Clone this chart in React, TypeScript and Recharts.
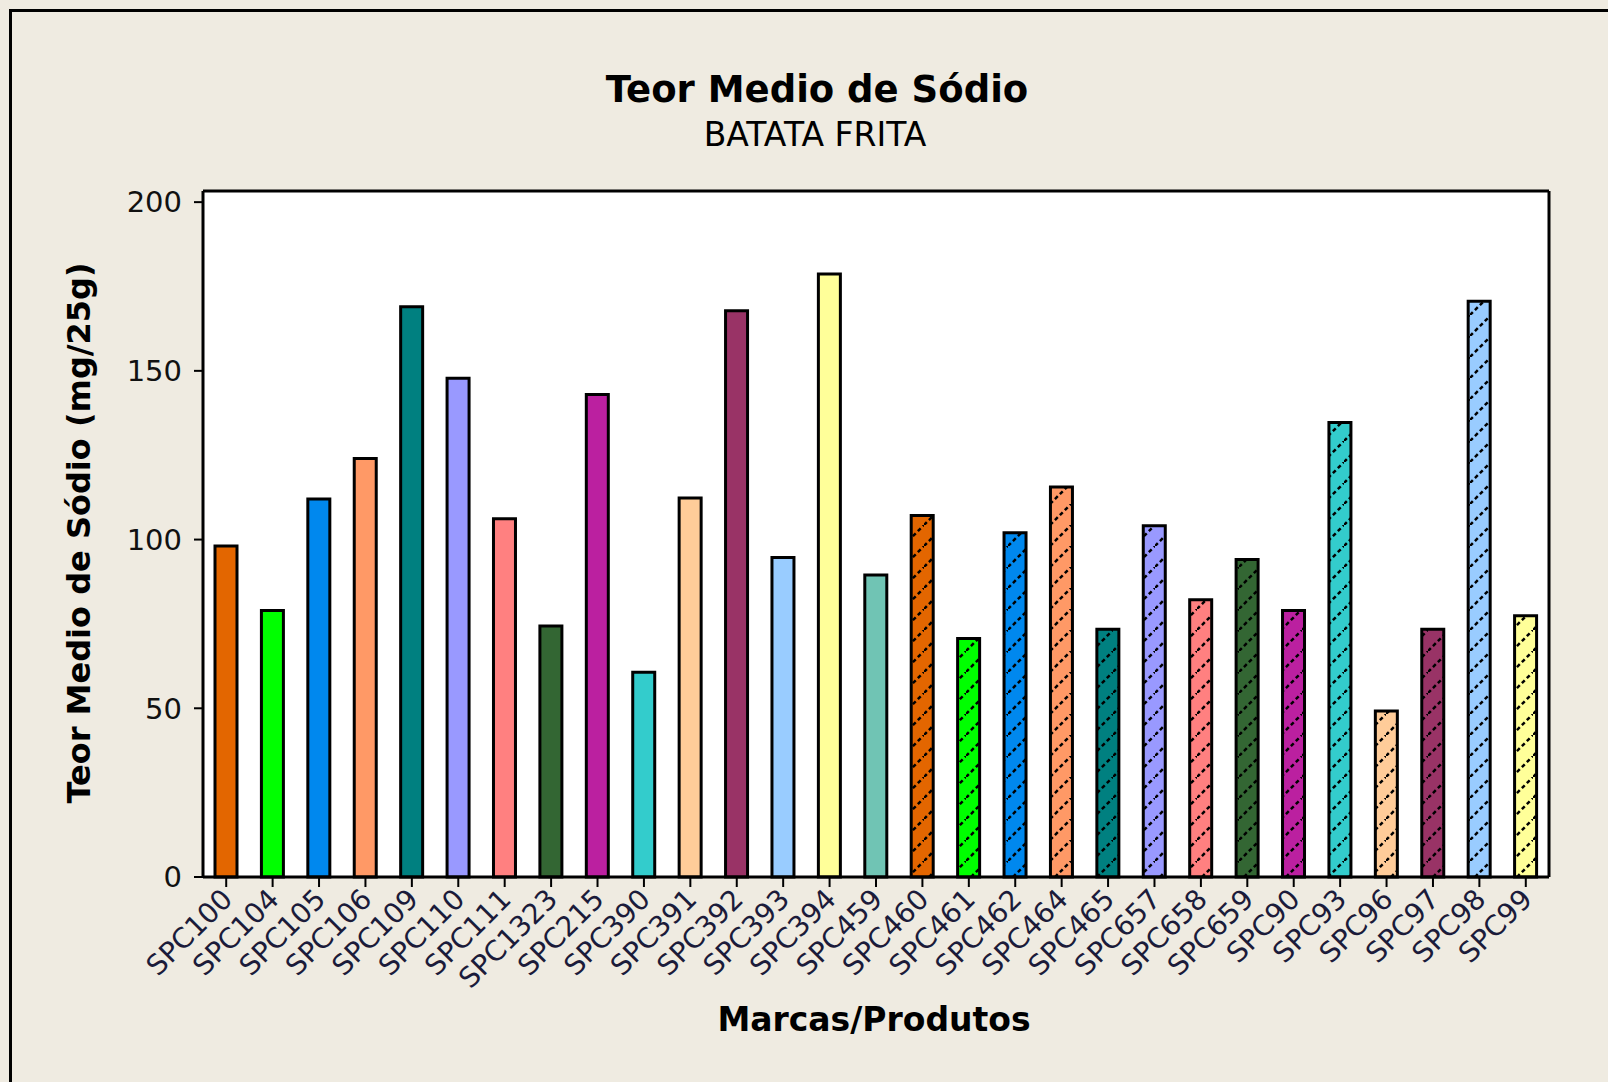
import React from "react";
import { BarChart, Bar, Cell, XAxis, YAxis, CartesianGrid } from "recharts";

// brands / products on the x axis
const products = [
  "SPC100", "SPC104", "SPC105", "SPC106", "SPC109", "SPC110", "SPC111", "SPC1323",
  "SPC215", "SPC390", "SPC391", "SPC392", "SPC393", "SPC394", "SPC459", "SPC460",
  "SPC461", "SPC462", "SPC464", "SPC465", "SPC657", "SPC658", "SPC659", "SPC90",
  "SPC93", "SPC96", "SPC97", "SPC98", "SPC99",
];

// mean sodium, mg per 25 g
const sodium = [
  98.1, 79, 112, 124, 169, 147.8, 106.2, 74.4,
  143, 60.7, 112.3, 167.8, 94.7, 178.7, 89.5, 107.1,
  70.7, 102, 115.6, 73.4, 104.1, 82.2, 94.1, 79,
  134.7, 49.2, 73.4, 170.6, 77.4,
];

const yTicks = [0, 50, 100, 150, 200];

// Minitab fill colours, the second round is hatched
const palette = [
  "#E36600", "#00FF00", "#0088EE", "#FF9966", "#008080",
  "#9999FF", "#FF8080", "#336633", "#BB20A0", "#33CCCC",
  "#FFCC99", "#993366", "#99CCFF", "#FFFF99", "#70C4B4",
];

const data = products.map((name, i) => ({ name, sodium: sodium[i] }));

const FONT = "'DejaVu Sans', Verdana, sans-serif";
const BG = "#EFEBE1";

function XTick({ x, y, payload }: any) {
  return (
    <text
      x={x + 8}
      y={y + 8}
      transform={`rotate(-45, ${x + 8}, ${y + 8})`}
      textAnchor="end"
      fontSize={28}
      fontFamily={FONT}
      fill="#1b1b3a"
    >
      {payload.value}
    </text>
  );
}

export default function App() {
  return (
    <div
      style={{
        position: "absolute",
        left: 0,
        top: 0,
        width: 1608,
        height: 1082,
        background: BG,
        overflow: "hidden",
      }}
    >
      <svg
        width={1608}
        height={1082}
        style={{ position: "absolute", left: 0, top: 0 }}
        fontFamily={FONT}
      >
        <rect x={10.5} y={10.5} width={1700} height={1200} fill="none" stroke="#000" strokeWidth={3} />
        <text x={817} y={102} textAnchor="middle" fontSize={37} fontWeight="bold" fill="#000">
          Teor Medio de Sódio
        </text>
        <text x={815} y={146} textAnchor="middle" fontSize={33} fill="#000">
          BATATA FRITA
        </text>
        <text x={874} y={1031} textAnchor="middle" fontSize={33} fontWeight="bold" fill="#000">
          Marcas/Produtos
        </text>
        <text
          transform="translate(90, 533) rotate(-90)"
          textAnchor="middle"
          fontSize={32}
          fontWeight="bold"
          fill="#000"
        >
          Teor Medio de Sódio (mg/25g)
        </text>
      </svg>
      <div style={{ position: "absolute", left: 0, top: 0 }}>
        <BarChart
          width={1608}
          height={1082}
          data={data}
          margin={{ top: 191, right: 59, bottom: 105, left: 13 }}
        >
          <defs>
            {palette.map((c, i) => (
              <pattern
                key={i}
                id={`hatch-${i}`}
                patternUnits="userSpaceOnUse"
                width={21}
                height={21}
              >
                <rect width={21} height={21} fill={c} />
                <path d="M0,21 L21,0" stroke="#000" strokeWidth={2.5} strokeDasharray="4 3" />
              </pattern>
            ))}
          </defs>
          {/* white plot area, with top and right frame lines */}
          <CartesianGrid
            fill="#fff"
            stroke="#000"
            strokeWidth={3}
            horizontalCoordinatesGenerator={({ offset }: any) => [offset.top]}
            verticalCoordinatesGenerator={({ offset }: any) => [offset.left + offset.width]}
          />
          <XAxis
            dataKey="name"
            interval={0}
            height={100}
            tickSize={10}
            tickMargin={6}
            axisLine={{ stroke: "#000", strokeWidth: 3 }}
            tickLine={{ stroke: "#000", strokeWidth: 2 }}
            tick={<XTick />}
          />
          <YAxis
            domain={[0, 203.3]}
            ticks={yTicks}
            width={190}
            tickSize={9}
            tickMargin={12}
            axisLine={{ stroke: "#000", strokeWidth: 3 }}
            tickLine={{ stroke: "#000", strokeWidth: 2 }}
            tick={{ fontSize: 29, fontFamily: FONT, fill: "#111" }}
          />
          <Bar dataKey="sodium" barSize={22} stroke="#000" strokeWidth={3} isAnimationActive={false}>
            {data.map((d, i) => (
              <Cell
                key={d.name}
                stroke="#000"
                strokeWidth={3}
                fill={i < palette.length ? palette[i] : `url(#hatch-${i - palette.length})`}
              />
            ))}
          </Bar>
        </BarChart>
      </div>
    </div>
  );
}
